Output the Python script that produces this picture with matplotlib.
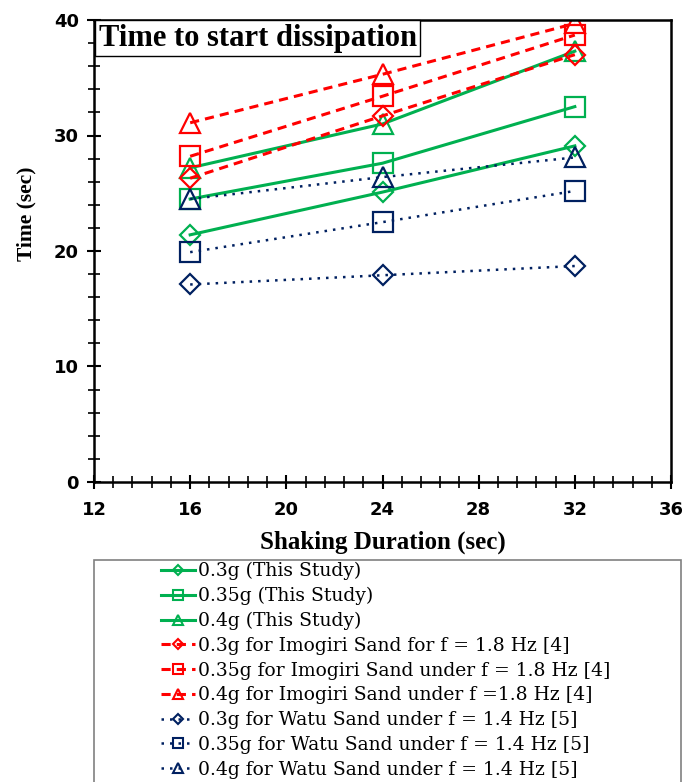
import matplotlib
matplotlib.use('Agg')
import matplotlib.pyplot as plt
from matplotlib.lines import Line2D
from matplotlib.patches import Rectangle
from matplotlib.ticker import MultipleLocator

duration = [16, 24, 32]

study_03 = [21.4, 25.1, 29.1]
study_035 = [24.5, 27.6, 32.5]
study_04 = [27.2, 31.0, 37.3]

imogiri_03 = [26.3, 31.7, 37.0]
imogiri_035 = [28.2, 33.4, 38.7]
imogiri_04 = [31.1, 35.3, 39.7]

watu_03 = [17.1, 17.9, 18.7]
watu_035 = [19.9, 22.5, 25.2]
watu_04 = [24.5, 26.4, 28.1]

labels = ['0.3g (This Study)',
          '0.35g (This Study)',
          '0.4g (This Study)',
          '0.3g for Imogiri Sand for f = 1.8 Hz [4]',
          '0.35g for Imogiri Sand under f = 1.8 Hz [4]',
          '0.4g for Imogiri Sand under f =1.8 Hz [4]',
          '0.3g for Watu Sand under f = 1.4 Hz [5]',
          '0.35g for Watu Sand under f = 1.4 Hz [5]',
          '0.4g for Watu Sand under f = 1.4 Hz [5]']

green = '#00B050'
red = '#FF0000'
navy = '#002060'

series = [
    (study_03, green, '-', 'D'),
    (study_035, green, '-', 's'),
    (study_04, green, '-', '^'),
    (imogiri_03, red, (0, (3, 2)), 'D'),
    (imogiri_035, red, (0, (3, 2)), 's'),
    (imogiri_04, red, (0, (3, 2)), '^'),
    (watu_03, navy, (0, (1, 2.4)), 'D'),
    (watu_035, navy, (0, (1, 2.4)), 's'),
    (watu_04, navy, (0, (1, 2.4)), '^'),
]
big_ms = {'D': 10, 's': 14, '^': 14}
small_ms = {'D': 5, 's': 7, '^': 7}

fig = plt.figure(figsize=(6.84, 7.82), dpi=100)
ax = fig.add_axes([94 / 684, 1 - 482 / 782, 577 / 684, 462 / 782])

handles = []
for (vals, col, ls, mk), lab in zip(series, labels):
    lw = 1.8 if col == navy else 2.2
    ax.plot(duration, vals, color=col, linestyle=ls, lw=lw, marker=mk,
            ms=big_ms[mk], mfc='none', mec=col, mew=1.6)
    handles.append(Line2D([], [], color=col, linestyle=ls, lw=lw, marker=mk,
                          ms=small_ms[mk], mfc='none', mec=col, mew=1.5))

ax.set_xlim(12, 36)
ax.set_ylim(0, 40)
ax.xaxis.set_major_locator(MultipleLocator(4))
ax.xaxis.set_minor_locator(MultipleLocator(0.8))
ax.yaxis.set_major_locator(MultipleLocator(10))
ax.yaxis.set_minor_locator(MultipleLocator(2))
ax.tick_params(which='major', direction='inout', length=10, width=1.5,
               top=False, right=False)
ax.tick_params(which='minor', direction='inout', length=8, width=1.2,
               top=False, right=False)
ax.tick_params(axis='x', which='major', pad=9)
ax.tick_params(axis='y', which='major', pad=6)
for lab in ax.get_xticklabels() + ax.get_yticklabels():
    lab.set_fontfamily('DejaVu Sans')
    lab.set_fontweight('bold')
    lab.set_fontsize(13)
for sp in ax.spines.values():
    sp.set_linewidth(1.8)

ax.set_xlabel('Shaking Duration (sec)', fontfamily='Liberation Serif',
              fontweight='bold', fontsize=18)
ax.xaxis.set_label_coords(0.5, -0.105)
ax.set_ylabel('Time (sec)', fontfamily='Liberation Serif',
              fontweight='bold', fontsize=15.5)
ax.yaxis.set_label_coords(-0.1, 0.58)

ax.text(0.008, 0.992, 'Time to start dissipation', transform=ax.transAxes,
        ha='left', va='top', fontfamily='Liberation Serif', fontweight='bold',
        fontsize=22,
        bbox=dict(boxstyle='square,pad=0.12', fc='white', ec='black', lw=1))

fig.patches.append(Rectangle((94 / 684, -0.1), 587 / 684, 1 - 560 / 782 + 0.1,
                             transform=fig.transFigure, fill=False,
                             ec='#808080', lw=1.2))
fig.legend(handles, labels, loc='upper left',
           bbox_to_anchor=(161 / 684, 1 - 562 / 782), borderaxespad=0,
           borderpad=0, frameon=False, handlelength=1.8, handletextpad=0.15,
           labelspacing=0.36, prop={'family': 'DejaVu Serif', 'size': 13.5})

fig.savefig('out.png', dpi=100)
